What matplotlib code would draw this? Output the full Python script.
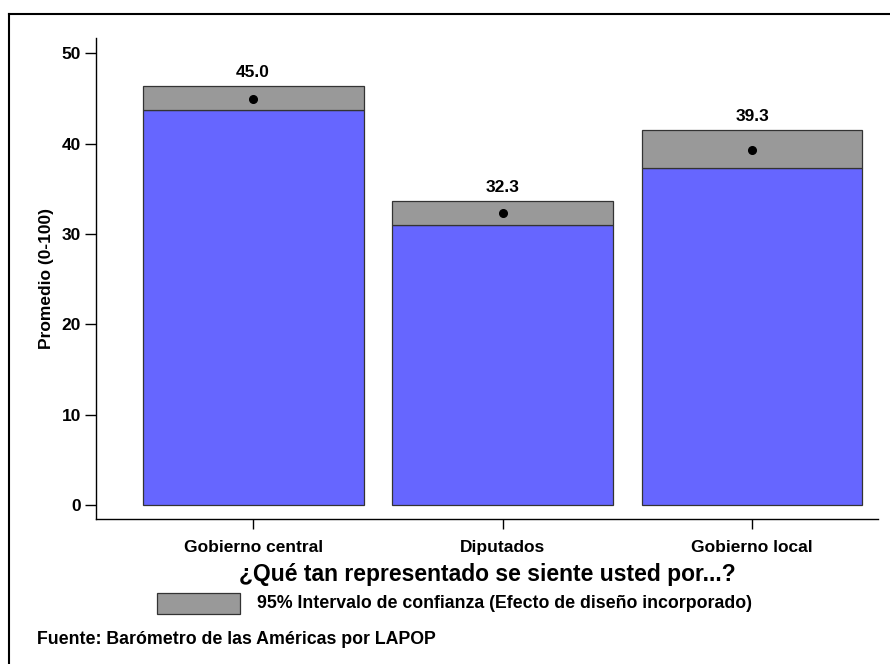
import matplotlib
matplotlib.use("Agg")
import matplotlib.pyplot as plt
from matplotlib.lines import Line2D
from matplotlib.patches import Rectangle

# data
categorias = ["Gobierno central", "Diputados", "Gobierno local"]
promedio = [45.0, 32.3, 39.3]
ic_inferior = [43.7, 31.0, 37.3]
ic_superior = [46.4, 33.6, 41.5]

azul = "#6666FF"
gris = "#999999"

plt.rcParams["font.family"] = ["Liberation Sans", "DejaVu Sans"]
plt.rcParams["font.weight"] = "bold"

fig = plt.figure(figsize=(8.9, 6.64), dpi=100)
ax = fig.add_axes([0.1079, 0.2184, 0.8786, 0.7244])

x = list(range(len(categorias)))
ancho = 0.885
ci_alto = [s - i for s, i in zip(ic_superior, ic_inferior)]

ax.bar(x, ic_inferior, width=ancho, color=azul, edgecolor="#333333", linewidth=0.9)
ax.bar(x, ci_alto, bottom=ic_inferior, width=ancho, color=gris, edgecolor="#333333", linewidth=0.9)
ax.plot(x, promedio, "o", color="black", markersize=5.5, zorder=5)

for xi, p, s in zip(x, promedio, ic_superior):
    ax.text(xi, s + 0.7, f"{p:.1f}", ha="center", va="bottom", fontsize=12.5, fontweight="bold")

ax.set_xlim(-0.63, 2.505)
ax.set_ylim(-1.55, 51.7)
ax.set_yticks([0, 10, 20, 30, 40, 50])
ax.set_xticks(x)
ax.set_xticklabels(categorias)
ax.tick_params(axis="y", length=8, width=1, labelsize=12.5, pad=3)
ax.tick_params(axis="x", length=7, width=1, labelsize=12.5, pad=8)
for lbl in ax.get_xticklabels() + ax.get_yticklabels():
    lbl.set_fontweight("bold")

for lado in ["top", "right"]:
    ax.spines[lado].set_visible(False)
ax.spines["left"].set_linewidth(1)
ax.spines["bottom"].set_linewidth(1)

ax.set_ylabel("Promedio (0-100)", fontsize=12.5, fontweight="bold", labelpad=5)
ax.set_xlabel("¿Qué tan representado se siente usted por...?", fontsize=16.5,
              fontweight="bold", labelpad=6)

# leyenda
fig.add_artist(Rectangle((157 / 890, 1 - 614 / 664), 83 / 890, 21 / 664,
                         transform=fig.transFigure, facecolor=gris,
                         edgecolor="#333333", linewidth=0.9))
fig.text(257 / 890, 1 - 604 / 664, "95% Intervalo de confianza (Efecto de diseño incorporado)",
         fontsize=12.8, fontweight="bold", va="center", ha="left")

fig.text(37 / 890, 1 - 640 / 664, "Fuente: Barómetro de las Américas por LAPOP",
         fontsize=12.8, fontweight="bold", va="center", ha="left")

# marco exterior (izquierda y arriba)
fig.add_artist(Line2D([9 / 890, 9 / 890], [0, 1 - 14 / 664], transform=fig.transFigure,
                      color="black", linewidth=1.5))
fig.add_artist(Line2D([9 / 890, 1], [1 - 14 / 664, 1 - 14 / 664], transform=fig.transFigure,
                      color="black", linewidth=1.5))

fig.savefig("out.png", dpi=100)
